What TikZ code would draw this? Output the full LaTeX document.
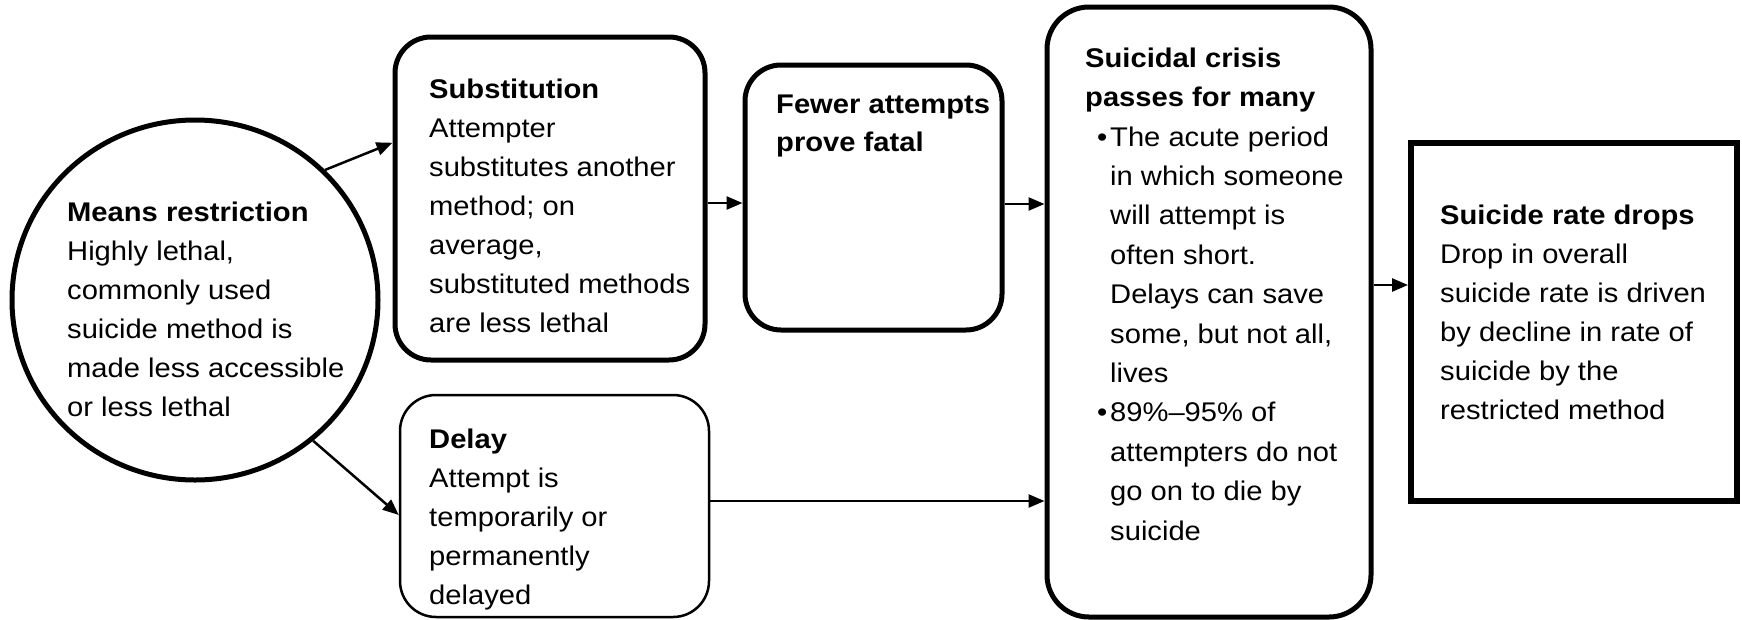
\documentclass[tikz,border=0pt]{standalone}
\usepackage{fontspec}
\setmainfont{Liberation Sans}[FakeStretch=1.08]
\usetikzlibrary{arrows.meta,shapes.geometric,calc}
\newcommand\firstln{\rule{0pt}{21pt}}
\begin{document}
\begin{tikzpicture}[x=1pt,y=-1pt,
  txt/.style={inner sep=0pt, anchor=north west, align=left, font=\fontsize{27}{39}\selectfont},
  rbox/.style={draw, rounded corners=36pt, line width=5pt, inner sep=0pt},
  thinbox/.style={draw, rounded corners=36pt, line width=2.5pt, inner sep=0pt},
  sqbox/.style={draw, line width=6pt, inner sep=0pt},
  arr/.style={line width=2.5pt, -{Triangle[length=16pt,width=13pt]}}
]
\useasboundingbox (0,0) rectangle (1742,619);
\fill[white] (0,0) rectangle (1742,619);

% shapes
\node[draw, ellipse, line width=5pt, minimum width=366pt, minimum height=360pt, inner sep=0pt] (circ) at (195,300) {};
\node[rbox, minimum width=310pt, minimum height=323pt] (sub) at (550,198.5) {};
\node[rbox, minimum width=257pt, minimum height=265pt] (fewer) at (873.5,197.5) {};
\node[thinbox, minimum width=309pt, minimum height=222pt] (delay) at (554.5,506) {};
\node[rbox, rounded corners=42pt, minimum width=324pt, minimum height=610pt] (crisis) at (1209,312) {};
\node[sqbox, minimum width=326pt, minimum height=358pt] (rate) at (1574,322) {};

% texts
\node[txt] (ctext) at (67,200) {\firstln\textbf{Means restriction}\\Highly lethal,\\commonly used\\suicide method is\\made less accessible\\or less lethal};
\node[txt] (stext) at (429,77) {\firstln\textbf{Substitution}\\Attempter\\substitutes another\\method; on\\average,\\substituted methods\\are less lethal};
\node[txt, font=\fontsize{27}{38}\selectfont] (ftext) at (776,92) {\firstln\textbf{Fewer attempts}\\\textbf{prove fatal}};
\node[txt] (dtext) at (429,427) {\firstln\textbf{Delay}\\Attempt is\\temporarily or\\permanently\\delayed};
\node[txt, font=\fontsize{27}{39.4}\selectfont] (ktext) at (1085,46) {\firstln\textbf{Suicidal crisis}\\\textbf{passes for many}\\
\hspace*{25pt}\llap{\textbullet\hspace{3pt}}The acute period\\
\hspace*{25pt}in which someone\\
\hspace*{25pt}will attempt is\\
\hspace*{25pt}often short.\\
\hspace*{25pt}Delays can save\\
\hspace*{25pt}some, but not all,\\
\hspace*{25pt}lives\\
\hspace*{25pt}\llap{\textbullet\hspace{3pt}}89\%–95\% of\\
\hspace*{25pt}attempters do not\\
\hspace*{25pt}go on to die by\\
\hspace*{25pt}suicide};
\node[txt] (rtext) at (1440,203) {\firstln\textbf{Suicide rate drops}\\Drop in overall\\suicide rate is driven\\by decline in rate of\\suicide by the\\restricted method};

% connectors
\draw[arr] (circ.45) -- ($(sub.north west)!0.33!(sub.south west)$);
\draw[arr] (circ.-50) -- ($(delay.north west)!0.54!(delay.south west)$);
\draw[arr] ([yshift=-4.5pt]sub.east) -- ([yshift=-4.5pt]sub.east -| fewer.west);
\draw[arr] ([yshift=-6.5pt]fewer.east) -- ([yshift=-6.5pt]fewer.east -| crisis.west);
\draw[arr] ([yshift=5pt]delay.east) -- ([yshift=5pt]delay.east -| crisis.west);
\draw[arr] ([yshift=27pt]crisis.east) -- ([yshift=27pt]crisis.east -| rate.west);
\end{tikzpicture}
\end{document}
